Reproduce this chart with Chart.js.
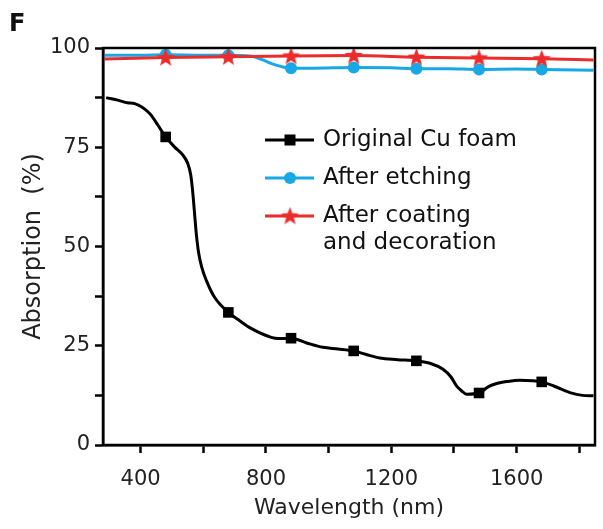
<!DOCTYPE html>
<html>
<head>
<meta charset="utf-8">
<script src="https://cdn.jsdelivr.net/npm/chart.js@4.4.0/dist/chart.umd.min.js"></script>
<style>
html, body { margin: 0; padding: 0; background: #fff; }
</style>
</head>
<body>
<canvas id="canvas" width="603" height="529"></canvas>
<script>
// wavelength (nm) / absorption (%)
var cuX = [290, 330, 358, 381, 429, 455, 480, 508, 535, 550, 560, 566, 572, 578, 585, 595, 610, 636, 680, 716, 754, 817, 840, 880,
           930, 982, 1030, 1080, 1120, 1163, 1220, 1280, 1330, 1365, 1390, 1408, 1425, 1440, 1480, 1510, 1536, 1570, 1610, 1650, 1680, 1720, 1770, 1810, 1845];
var cuY = [87.5, 86.8, 86.2, 86.0, 83.5, 80.6, 77.6, 75.1, 73.0, 71.0, 68.0, 64.0, 58.5, 53.0, 48.5, 44.8, 41.4, 37.2, 33.4, 31.3, 29.3, 27.1, 26.8, 26.9,
           25.7, 24.6, 24.2, 23.7, 22.8, 21.9, 21.5, 21.2, 20.4, 19.1, 17.2, 14.9, 13.6, 12.8, 13.1, 14.7, 15.5, 16.0, 16.3, 16.2, 15.9, 14.8, 13.2, 12.5, 12.4];

var etchX = [285, 400, 480, 600, 680, 750, 790, 820, 850, 880, 950, 1080, 1200, 1280, 1380, 1480, 1600, 1680, 1845];
var etchY = [98.2, 98.2, 98.3, 98.2, 98.2, 98.0, 97.0, 96.0, 95.3, 94.9, 94.9, 95.1, 95.0, 94.8, 94.8, 94.6, 94.7, 94.6, 94.4];

var coatX = [285, 480, 680, 880, 1080, 1280, 1480, 1680, 1845];
var coatY = [97.2, 97.6, 97.8, 98.0, 98.1, 97.7, 97.5, 97.3, 97.0];

var markerX = [480, 680, 880, 1080, 1280, 1480, 1680];

var xTicks = [400, 600, 800, 1000, 1200, 1400, 1600, 1800];
var xLabels = [400, 800, 1200, 1600];
var yTicks = [0, 12.5, 25, 37.5, 50, 62.5, 75, 87.5, 100];
var yLabels = [0, 25, 50, 75, 100];

var seriesNames = ['Original Cu foam', 'After etching', 'After coating'];

var BLACK = '#000000';
var BLUE = '#19a8e6';
var RED = '#ec2b2b';
var FONT = '"DejaVu Sans", sans-serif';

function pts(xs, ys) {
  return xs.map(function (x, i) { return { x: x, y: ys[i] }; });
}

function markerRadius(r) {
  return function (c) {
    var p = c.raw;
    return p && markerX.indexOf(p.x) >= 0 ? r : 0;
  };
}

// filled five point star used as point style
var star = document.createElement('canvas');
star.width = 19; star.height = 19;
(function () {
  var s = star.getContext('2d');
  s.fillStyle = RED;
  s.beginPath();
  for (var i = 0; i < 10; i++) {
    var r = i % 2 === 0 ? 9.5 : 4;
    var a = -Math.PI / 2 + i * Math.PI / 5;
    s.lineTo(9.5 + r * Math.cos(a), 10 + r * Math.sin(a));
  }
  s.closePath();
  s.fill();
})();

var extras = {
  id: 'extras',
  afterDraw: function (chart) {
    var ctx = chart.ctx;
    var a = chart.chartArea;
    ctx.save();
    // frame
    ctx.strokeStyle = '#000';
    ctx.lineWidth = 2.5;
    ctx.strokeRect(a.left, a.top, a.right - a.left, a.bottom - a.top);

    // panel letter
    ctx.fillStyle = '#111';
    ctx.font = 'bold 24px ' + FONT;
    ctx.textBaseline = 'top';
    ctx.textAlign = 'left';
    ctx.fillText('F', 9, 13);

    // legend
    var lx1 = a.left + 162, lx2 = a.left + 211, mx = a.left + 187, tx = a.left + 220;
    var rows = [a.top + 92, a.top + 130, a.top + 168];
    var colors = [BLACK, BLUE, RED];
    ctx.font = '23px ' + FONT;
    ctx.textBaseline = 'middle';
    for (var i = 0; i < 3; i++) {
      var y = rows[i];
      ctx.strokeStyle = colors[i];
      ctx.lineWidth = 3;
      ctx.beginPath();
      ctx.moveTo(lx1, y);
      ctx.lineTo(lx2, y);
      ctx.stroke();
      ctx.fillStyle = colors[i];
      if (i === 0) {
        ctx.fillRect(mx - 5.5, y - 5.5, 11, 11);
      } else if (i === 1) {
        ctx.beginPath();
        ctx.arc(mx, y, 6, 0, Math.PI * 2);
        ctx.fill();
      } else {
        ctx.drawImage(star, mx - star.width / 2, y - star.height / 2);
      }
      ctx.fillStyle = '#111';
      ctx.fillText(seriesNames[i], tx, y);
    }
    ctx.fillText('and decoration', tx, rows[2] + 27);
    ctx.restore();
  }
};

var ctx = document.getElementById('canvas').getContext('2d');
var config = {
  type: 'line',
  data: {
    datasets: [{
      label: seriesNames[0],
      data: pts(cuX, cuY),
      borderColor: BLACK,
      backgroundColor: BLACK,
      borderWidth: 3,
      pointStyle: 'rect',
      pointRadius: markerRadius(7.5),
      pointBorderWidth: 0,
      cubicInterpolationMode: 'monotone',
      order: 3
    }, {
      label: seriesNames[1],
      data: pts(etchX, etchY),
      borderColor: BLUE,
      backgroundColor: BLUE,
      borderWidth: 3,
      pointStyle: 'circle',
      pointRadius: markerRadius(6),
      pointBorderWidth: 0,
      cubicInterpolationMode: 'monotone',
      order: 2
    }, {
      label: seriesNames[2],
      data: pts(coatX, coatY),
      borderColor: RED,
      backgroundColor: RED,
      borderWidth: 3,
      pointStyle: star,
      pointRadius: markerRadius(8),
      cubicInterpolationMode: 'monotone',
      order: 1
    }]
  },
  options: {
    responsive: false,
    animation: false,
    clip: false,
    layout: { padding: { top: 48, right: 8, left: 0, bottom: 0 } },
    plugins: { legend: { display: false }, tooltip: { enabled: false } },
    scales: {
      x: {
        type: 'linear',
        min: 280,
        max: 1850,
        afterBuildTicks: function (scale) {
          scale.ticks = xTicks.map(function (v) { return { value: v }; });
        },
        afterFit: function (scale) { scale.height = 84; },
        ticks: {
          autoSkip: false,
          maxRotation: 0,
          padding: 14,
          color: '#222',
          font: { family: FONT, size: 21 },
          callback: function (v) { return xLabels.indexOf(v) >= 0 ? String(v) : ''; }
        },
        grid: { drawOnChartArea: false, drawTicks: true, tickLength: 8, tickWidth: 2.5, tickColor: '#000' },
        border: { display: true, color: '#000', width: 2.5 },
        title: {
          display: true,
          text: 'Wavelength (nm)',
          color: '#222',
          font: { family: FONT, size: 22 },
          padding: { top: 0, bottom: 8 }
        }
      },
      y: {
        min: 0,
        max: 100,
        afterBuildTicks: function (scale) {
          scale.ticks = yTicks.map(function (v) { return { value: v }; });
        },
        afterFit: function (scale) { scale.width = 103; },
        ticks: {
          autoSkip: false,
          padding: 5,
          color: '#222',
          font: { family: FONT, size: 21 },
          callback: function (v) { return yLabels.indexOf(v) >= 0 ? String(v) : ''; }
        },
        grid: { drawOnChartArea: false, drawTicks: true, tickLength: 8, tickWidth: 2.5, tickColor: '#000' },
        border: { display: true, color: '#000', width: 2.5 },
        title: {
          display: true,
          text: 'Absorption  (%)',
          color: '#222',
          font: { family: FONT, size: 24 },
          padding: { top: 19, bottom: 0 }
        }
      }
    }
  },
  plugins: [extras]
};

var chart = new Chart(ctx, config);
</script>
</body>
</html>
